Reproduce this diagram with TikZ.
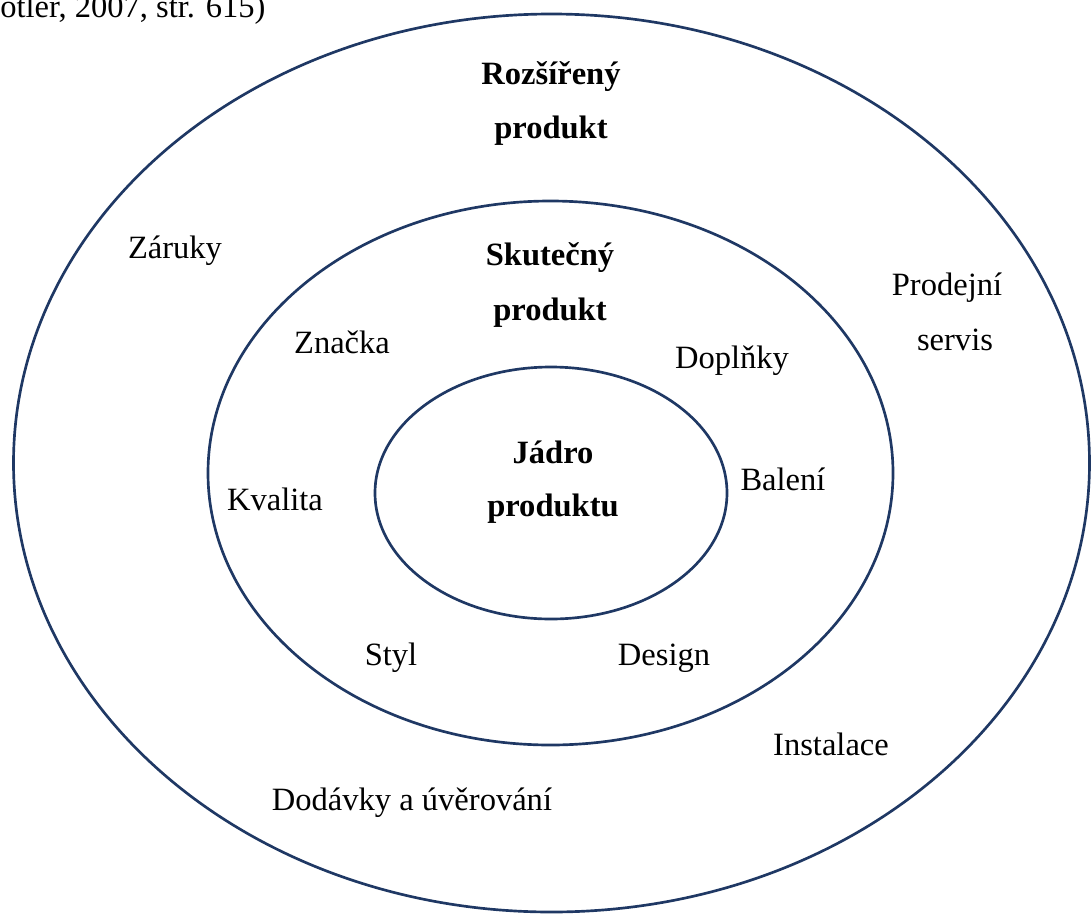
\documentclass[tikz,border=0pt]{standalone}
\usepackage{fontspec}
\setmainfont{Liberation Serif}
\usetikzlibrary{shapes.geometric}
\definecolor{navy}{HTML}{1F3864}
\begin{document}
\begin{tikzpicture}[x=0.75pt,y=-0.75pt,
  ring/.style={ellipse,draw=navy,line width=2pt,inner sep=0pt},
  lbl/.style={anchor=base,inner sep=0pt,font=\fontsize{24.4}{29}\selectfont},
  blbl/.style={lbl,font=\fontsize{24.4}{29}\selectfont\bfseries}]
\useasboundingbox (0,0) rectangle (1092,914);
\node[ring,minimum width=807pt,minimum height=673.5pt] (outer) at (551.5,463) {};
\node[ring,minimum width=513.75pt,minimum height=408pt] (middle) at (550.5,473) {};
\node[ring,minimum width=264pt,minimum height=189pt] (inner) at (551,493) {};
\node[lbl,anchor=base west] (cite) at (0,17) {otler, 2007, str. 615)};
\node[blbl] (r1) at (551,84) {Rozšířený};
\node[blbl] (r2) at (551,138) {produkt};
\node[blbl] (s1) at (550,265) {Skutečný};
\node[blbl] (s2) at (550,320) {produkt};
\node[blbl] (j1) at (553,463) {Jádro};
\node[blbl] (j2) at (553,516) {produktu};
\node[lbl] (zaruky) at (175,258) {Záruky};
\node[lbl] (prod1) at (947,295) {Prodejní};
\node[lbl] (prod2) at (955,350) {servis};
\node[lbl] (znacka) at (342,353) {Značka};
\node[lbl] (doplnky) at (732,368) {Doplňky};
\node[lbl] (kvalita) at (275,510) {Kvalita};
\node[lbl] (baleni) at (783,490) {Balení};
\node[lbl] (styl) at (391,665) {Styl};
\node[lbl] (design) at (664,665) {Design};
\node[lbl] (instalace) at (831,755) {Instalace};
\node[lbl] (dodavky) at (412,810) {Dodávky a úvěrování};
\end{tikzpicture}
\end{document}
